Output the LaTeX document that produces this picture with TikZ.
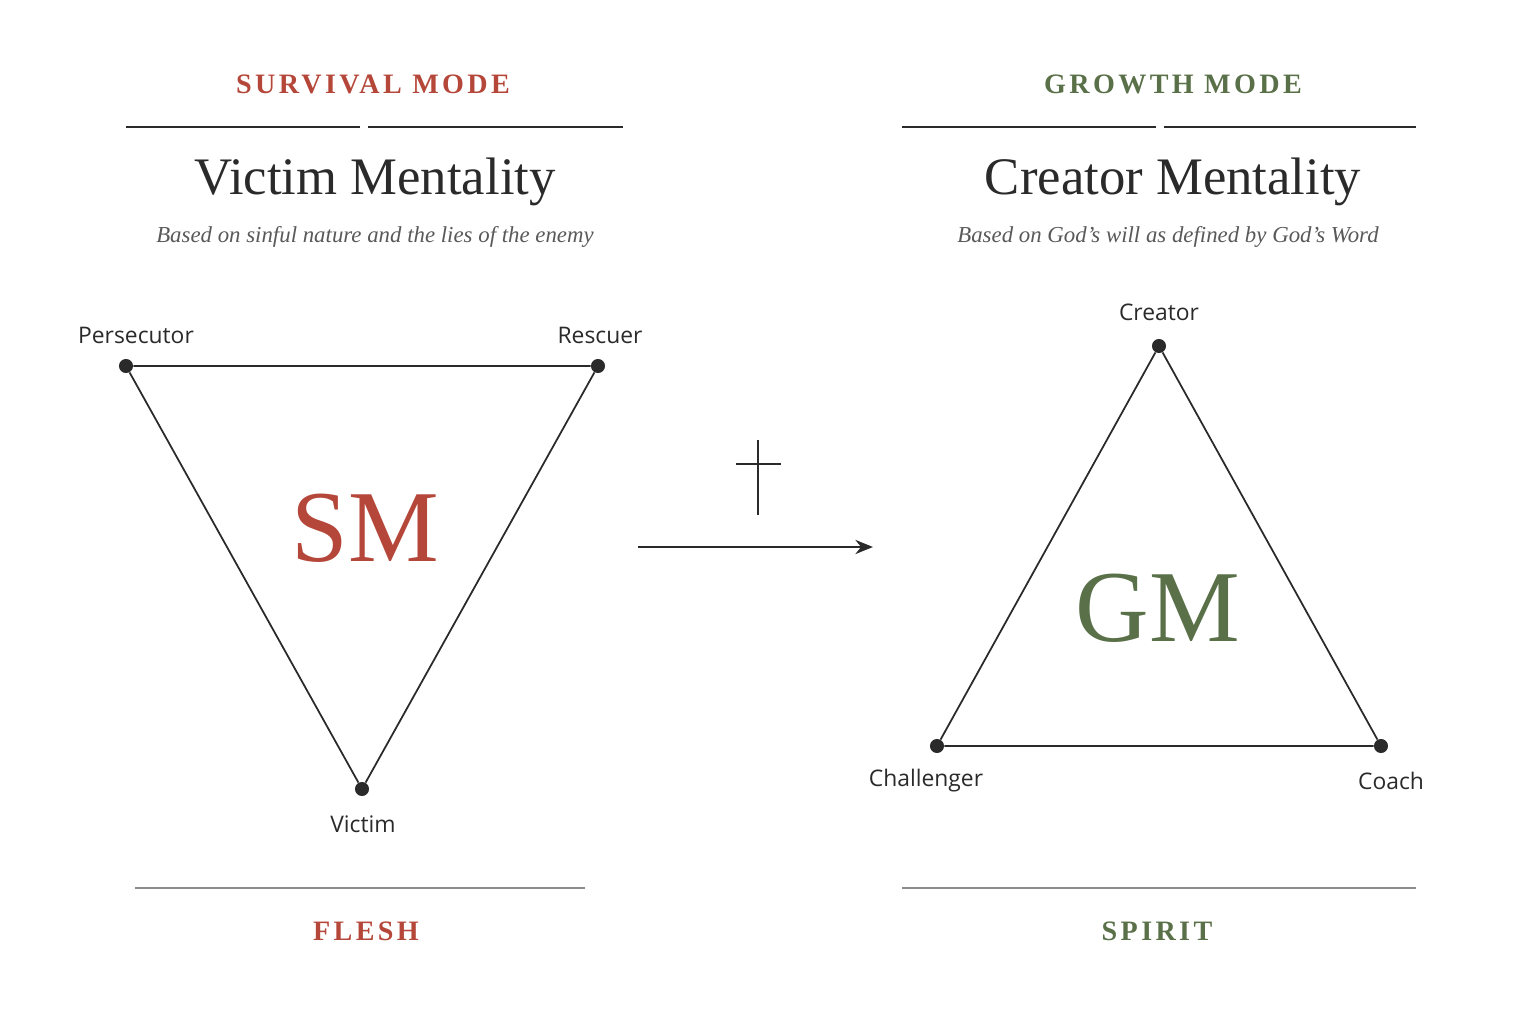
\documentclass[tikz,border=0pt]{standalone}
\usepackage{fontspec}
\setmainfont{Liberation Serif}
\setsansfont{Open Sans}
\newfontfamily\spacedserif[LetterSpace=12]{Liberation Serif}
\definecolor{smred}{HTML}{B5473A}
\definecolor{gmgreen}{HTML}{5A7048}
\definecolor{inkgray}{HTML}{2A2A2A}
\usetikzlibrary{arrows.meta}
\tikzset{
  dot/.style={circle,fill=inkgray,inner sep=0pt,minimum size=8pt},
  role/.style={font=\sffamily\fontsize{13}{15}\selectfont,text=inkgray},
  mode/.style={font=\spacedserif\bfseries\fontsize{16}{18}\selectfont},
  title/.style={font=\fontsize{30}{34}\selectfont,text=inkgray},
  sub/.style={font=\itshape\fontsize{13}{15}\selectfont,text=black!65},
  rule/.style={draw=inkgray,line width=0.9pt},
  side/.style={draw=inkgray,line width=1pt},
}
\begin{document}
\begin{tikzpicture}[x=0.02cm,y=-0.02cm]
\useasboundingbox (0,0) rectangle (1536,1024);

% headings
\node[mode,text=smred] (survival) at (373,84) {SURVIVAL MODE};
\node[mode,text=gmgreen] (growth) at (1173,84) {GROWTH MODE};
\draw[rule] (126,127) -- (360,127);
\draw[rule] (368,127) -- (623,127);
\draw[rule] (902,127) -- (1156,127);
\draw[rule] (1164,127) -- (1416,127);
\node[title] (victimT) at (375,182) {Victim Mentality};
\node[title] (creatorT) at (1173,182) {Creator Mentality};
\node[sub] (victimS) at (375,237) {Based on sinful nature and the lies of the enemy};
\node[sub] (creatorS) at (1168,237) {Based on God's will as defined by God's Word};

% survival triangle
\node[dot] (pers) at (126,366) {};
\node[dot] (resc) at (598,366) {};
\node[dot] (vict) at (362,789) {};
\draw[side] (pers) -- (resc) -- (vict) -- (pers);
\node[role] at (136,335) {Persecutor};
\node[role] at (600,335) {Rescuer};
\node[role] at (363,824) {Victim};
\node[text=smred,font=\fontsize{58}{64}\selectfont] (sm) at (365,528) {SM};

% cross and arrow
\coordinate (crossT) at (758,440);
\coordinate (crossB) at (758,515);
\coordinate (crossL) at (736,464);
\coordinate (crossR) at (781,464);
\draw[inkgray,line width=1.5pt] (crossT) -- (crossB);
\draw[inkgray,line width=1.5pt] (crossL) -- (crossR);
\coordinate (arrS) at (638,547);
\coordinate (arrE) at (873,547);
\draw[-{Stealth[length=10pt,width=8pt]},inkgray,line width=1.5pt] (arrS) -- (arrE);

% growth triangle
\node[dot] (crea) at (1159,346) {};
\node[dot] (chal) at (937,746) {};
\node[dot] (coach) at (1381,746) {};
\draw[side] (crea) -- (coach) -- (chal) -- (crea);
\node[role] at (1159,312) {Creator};
\node[role] at (926,781) {Challenger};
\node[role] at (1391,781) {Coach};
\node[text=gmgreen,font=\fontsize{58}{64}\selectfont] (gm) at (1158,608) {GM};

% footers
\draw[draw=black!45,line width=0.7pt] (135,888) -- (585,888);
\draw[draw=black!45,line width=0.7pt] (902,888) -- (1416,888);
\node[mode,text=smred] (flesh) at (366,931) {FLESH};
\node[mode,text=gmgreen] (spirit) at (1157,931) {SPIRIT};
\end{tikzpicture}
\end{document}
